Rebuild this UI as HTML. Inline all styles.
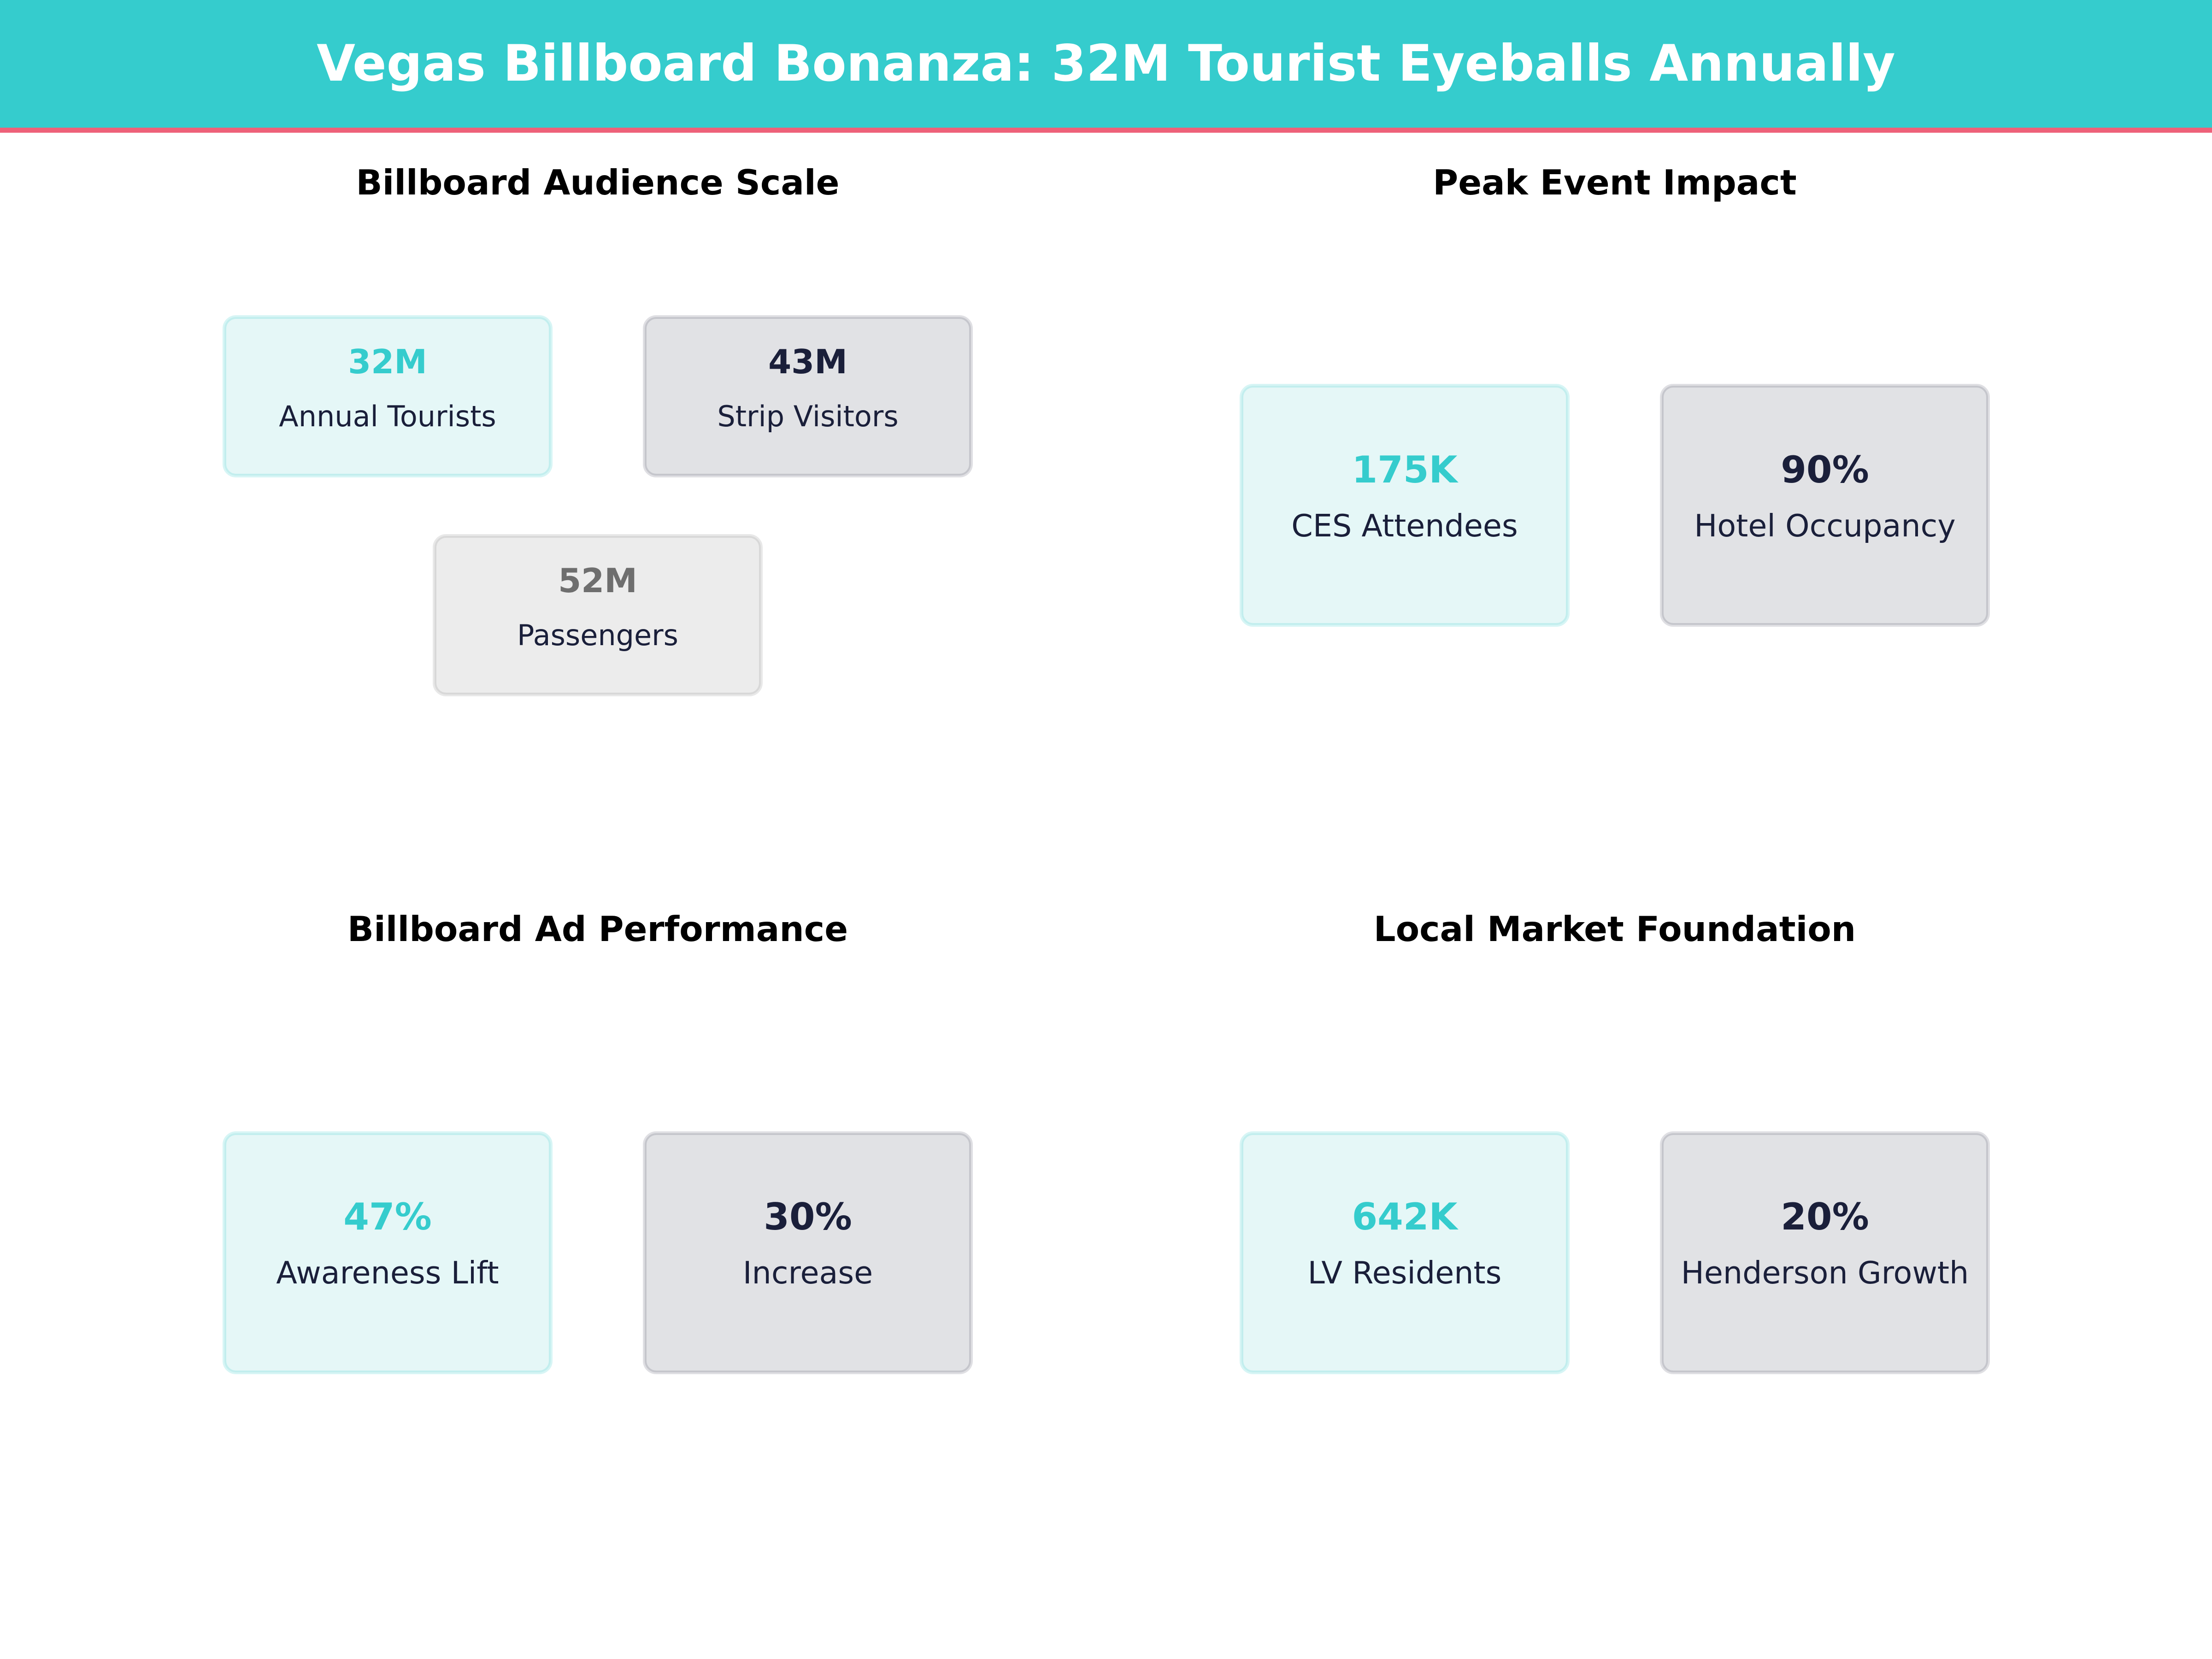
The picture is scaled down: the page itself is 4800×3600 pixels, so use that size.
<!DOCTYPE html>
<html>
<head>
<meta charset="utf-8">
<style>
  html, body { margin: 0; padding: 0; background: #ffffff; }
  body { width: 4800px; height: 3600px; overflow: hidden; }
  svg { display: block; }
  text { font-family: "DejaVu Sans", "Liberation Sans", sans-serif; }
  .ttl { font-size: 75px; font-weight: bold; fill: #000000; }
  .v3 { font-size: 72px; font-weight: bold; }
  .l3 { font-size: 62px; fill: #1a1f3a; }
  .v2 { font-size: 80px; font-weight: bold; }
  .l2 { font-size: 66.7px; fill: #1a1f3a; }
  .teal { fill: #35cccd; }
  .navy { fill: #1a1f3a; }
  .gray { fill: #6e6e6e; }
  .cA { fill: #e5f7f7; stroke: rgba(53,204,205,0.20); stroke-width: 8; }
  .cB { fill: #e1e2e5; stroke: rgba(26,31,58,0.14); stroke-width: 8; }
  .cC { fill: #ececec; stroke: rgba(110,110,110,0.16); stroke-width: 8; }
</style>
</head>
<body>
<svg width="4800" height="3600" viewBox="0 0 4800 3600" xmlns="http://www.w3.org/2000/svg">
  <rect x="0" y="0" width="4800" height="3600" fill="#ffffff"/>
  <!-- Header -->
  <rect x="0" y="0" width="4800" height="283" fill="#35cccd"/>
  <rect x="0" y="277" width="4800" height="11" fill="#ee6179"/>
  <text x="2400" y="175" text-anchor="middle" font-size="108.4" font-weight="bold" fill="#ffffff">Vegas Billboard Bonanza: 32M Tourist Eyeballs Annually</text>

  <!-- Panel titles -->
  <text class="ttl" x="1297" y="422" text-anchor="middle">Billboard Audience Scale</text>
  <text class="ttl" x="3504" y="422" text-anchor="middle">Peak Event Impact</text>
  <text class="ttl" x="1297" y="2042" text-anchor="middle">Billboard Ad Performance</text>
  <text class="ttl" x="3504" y="2042" text-anchor="middle">Local Market Foundation</text>

  <!-- Top-left panel -->
  <rect class="cA" x="487" y="688" width="708" height="344" rx="25" ry="25"/>
  <text class="v3 teal" x="841" y="810" text-anchor="middle">32M</text>
  <text class="l3" x="841" y="925" text-anchor="middle">Annual Tourists</text>

  <rect class="cB" x="1399" y="688" width="708" height="344" rx="25" ry="25"/>
  <text class="v3 navy" x="1753" y="810" text-anchor="middle">43M</text>
  <text class="l3" x="1753" y="925" text-anchor="middle">Strip Visitors</text>

  <rect class="cC" x="943" y="1163" width="708" height="344" rx="25" ry="25"/>
  <text class="v3 gray" x="1297" y="1285" text-anchor="middle">52M</text>
  <text class="l3" x="1297" y="1400" text-anchor="middle">Passengers</text>

  <!-- Top-right panel -->
  <rect class="cA" x="2694" y="837" width="708" height="519" rx="25" ry="25"/>
  <text class="v2 teal" x="3048" y="1047" text-anchor="middle">175K</text>
  <text class="l2" x="3048" y="1164" text-anchor="middle">CES Attendees</text>

  <rect class="cB" x="3606" y="837" width="708" height="519" rx="25" ry="25"/>
  <text class="v2 navy" x="3960" y="1047" text-anchor="middle">90%</text>
  <text class="l2" x="3960" y="1164" text-anchor="middle">Hotel Occupancy</text>

  <!-- Bottom-left panel -->
  <rect class="cA" x="487" y="2459" width="708" height="519" rx="25" ry="25"/>
  <text class="v2 teal" x="841" y="2668" text-anchor="middle">47%</text>
  <text class="l2" x="841" y="2785" text-anchor="middle">Awareness Lift</text>

  <rect class="cB" x="1399" y="2459" width="708" height="519" rx="25" ry="25"/>
  <text class="v2 navy" x="1753" y="2668" text-anchor="middle">30%</text>
  <text class="l2" x="1753" y="2785" text-anchor="middle">Increase</text>

  <!-- Bottom-right panel -->
  <rect class="cA" x="2694" y="2459" width="708" height="519" rx="25" ry="25"/>
  <text class="v2 teal" x="3048" y="2668" text-anchor="middle">642K</text>
  <text class="l2" x="3048" y="2785" text-anchor="middle">LV Residents</text>

  <rect class="cB" x="3606" y="2459" width="708" height="519" rx="25" ry="25"/>
  <text class="v2 navy" x="3960" y="2668" text-anchor="middle">20%</text>
  <text class="l2" x="3960" y="2785" text-anchor="middle">Henderson Growth</text>
</svg>
</body>
</html>
